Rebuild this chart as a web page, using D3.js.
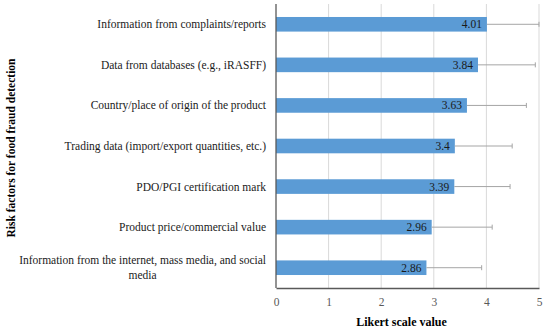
<!DOCTYPE html>
<html>
<head>
<meta charset="utf-8">
<script src="https://cdn.jsdelivr.net/npm/d3@7"></script>
<style>
  body { margin: 0; background: #fff; }
  svg text { font-family: "Liberation Serif", "Times New Roman", serif; }
</style>
</head>
<body>
<div id="chart"></div>
<script>
// risk factors, top to bottom
var categories = [
    "Information from complaints/reports",
    "Data from databases (e.g., iRASFF)",
    "Country/place of origin of the product",
    "Trading data (import/export quantities, etc.)",
    "PDO/PGI certification mark",
    "Product price/commercial value",
    "Information from the internet, mass media, and social media"
];
var means = [4.01, 3.84, 3.63, 3.4, 3.39, 2.96, 2.86];
var sds = [0.99, 1.09, 1.13, 1.09, 1.06, 1.15, 1.05];
var xTicks = [0, 1, 2, 3, 4, 5];

var df = categories.map(function(c, i) {
    return {cat: c, mean: means[i], sd: sds[i]};
});

function setup_chart_area() {
    const margin = {top: 4, right: 11, bottom: 44, left: 276},
          width = 550 - margin.left - margin.right,
          height = 332 - margin.top - margin.bottom;

    var svg = d3.select("#chart")
        .append("svg")
        .attr("width", width + margin.left + margin.right)
        .attr("height", height + margin.top + margin.bottom)
        .append("g")
        .attr("transform", `translate(${margin.left}, ${margin.top})`);

    return [margin, width, height, svg];
}

function draw_bars() {
    var [margin, width, height, svg] = setup_chart_area();

    var x = d3.scaleLinear().domain([0, 5]).range([0, width]);
    var y = d3.scaleBand().domain(categories).range([0, height])
        .paddingInner(0.64).paddingOuter(0.32);

    // gridlines
    svg.selectAll(".grid")
        .data(xTicks.slice(1))
        .enter().append("line")
        .attr("x1", d => x(d)).attr("x2", d => x(d))
        .attr("y1", 0).attr("y2", height)
        .attr("stroke", "#d9d9d9").attr("stroke-width", 1);

    // bars
    svg.selectAll(".bar")
        .data(df)
        .enter().append("rect")
        .attr("x", 0)
        .attr("y", d => y(d.cat))
        .attr("width", d => x(d.mean))
        .attr("height", y.bandwidth())
        .attr("fill", "#5b9bd5");

    // error bars (upper side only visible)
    var eb = svg.selectAll(".err").data(df).enter().append("g")
        .attr("stroke", "#a5a5a5").attr("stroke-width", 1);
    eb.append("line")
        .attr("x1", d => x(d.mean)).attr("x2", d => x(d.mean + d.sd))
        .attr("y1", d => y(d.cat) + y.bandwidth() / 2)
        .attr("y2", d => y(d.cat) + y.bandwidth() / 2);
    eb.append("line")
        .attr("x1", d => x(d.mean + d.sd)).attr("x2", d => x(d.mean + d.sd))
        .attr("y1", d => y(d.cat) + y.bandwidth() / 2 - 2.5)
        .attr("y2", d => y(d.cat) + y.bandwidth() / 2 + 2.5);

    // value labels
    svg.selectAll(".val").data(df).enter().append("text")
        .attr("x", d => x(d.mean) - 5)
        .attr("y", d => y(d.cat) + y.bandwidth() / 2)
        .attr("dy", "0.35em")
        .attr("text-anchor", "end")
        .attr("font-size", 11.5)
        .attr("fill", "#1a1a1a")
        .text(d => d.mean);

    // axes lines
    var xAxis = d3.axisBottom(x).tickValues(xTicks).tickFormat(d3.format("d"))
        .tickSize(0).tickPadding(10);
    var gx = svg.append("g")
        .attr("transform", `translate(0, ${height})`)
        .call(xAxis);
    gx.select(".domain").attr("stroke", "#595959").attr("stroke-width", 1.3);
    gx.selectAll("text").attr("font-size", 11.5).attr("fill", "#595959")
        .style("font-family", "Liberation Serif, serif");

    svg.append("line")
        .attr("x1", 0).attr("x2", 0).attr("y1", 0).attr("y2", height)
        .attr("stroke", "#595959").attr("stroke-width", 1.3);

    // category labels, right aligned block, lines centred inside
    var labelRight = -10;
    svg.selectAll(".cat").data(df).enter().each(function(d) {
        var lines = d.cat === categories[6]
            ? ["Information from the internet, mass media, and social", "media"]
            : [d.cat];
        var g = svg.append("g");
        var texts = lines.map(function(l) {
            return g.append("text").attr("font-size", 11.5).attr("fill", "#1a1a1a").text(l);
        });
        var maxW = d3.max(texts, t => t.node().getComputedTextLength());
        var cy = y(d.cat) + y.bandwidth() / 2;
        var lh = 15;
        texts.forEach(function(t, i) {
            t.attr("x", labelRight - maxW / 2)
             .attr("text-anchor", "middle")
             .attr("y", cy + (i - (lines.length - 1) / 2) * lh)
             .attr("dy", "0.35em");
        });
    });

    // axis titles
    svg.append("text")
        .attr("x", width / 2 - 6)
        .attr("y", height + 38)
        .attr("text-anchor", "middle")
        .attr("font-size", 12)
        .attr("font-weight", "bold")
        .text("Likert scale value");

    svg.append("text")
        .attr("transform", `translate(${-margin.left + 15}, ${height / 2 + 2}) rotate(-90)`)
        .attr("text-anchor", "middle")
        .attr("font-size", 11.5)
        .attr("font-weight", "bold")
        .text("Risk factors for food fraud detection");
}

draw_bars();
</script>
</body>
</html>
